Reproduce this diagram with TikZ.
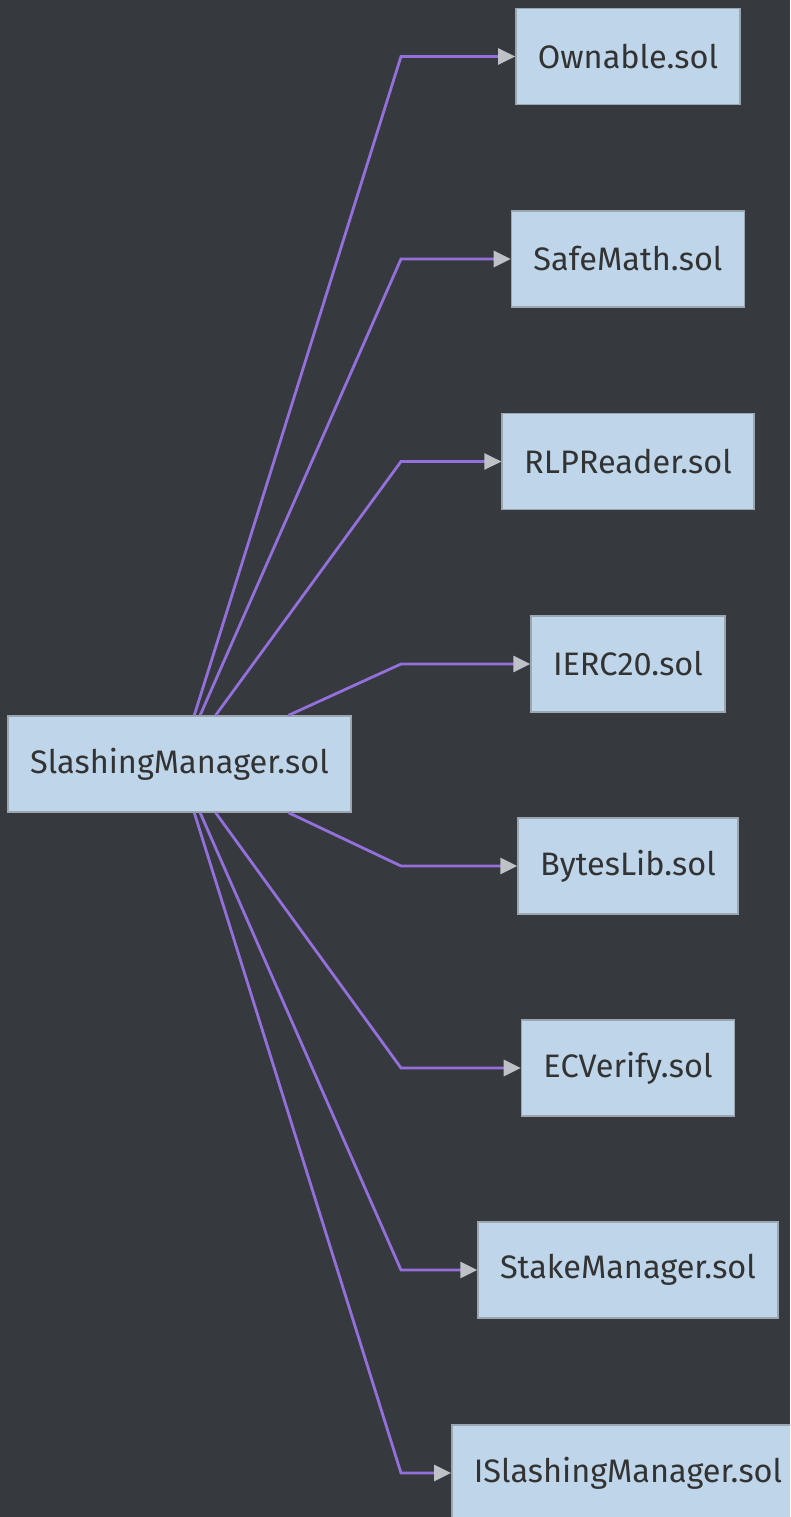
\documentclass[tikz,border=0pt]{standalone}
\usepackage{fontspec}
\setmainfont{Fira Sans}
\usepackage{tikz}
\usetikzlibrary{calc, positioning, arrows.meta}
\definecolor{bgdark}{RGB}{54,57,62}
\definecolor{boxblue}{RGB}{190,213,234}
\definecolor{boxedge}{RGB}{156,166,176}
\definecolor{edgepurple}{RGB}{147,112,219}
\definecolor{tipgray}{RGB}{190,194,200}
\definecolor{txt}{RGB}{51,51,51}
\tikzstyle{file}=[draw=boxedge, fill=boxblue, line width=1.5pt, shape=rectangle, inner xsep=22pt, minimum height=96pt, text=txt, font=\fontsize{32.5}{38}\selectfont]
\tikzstyle{dep}=[draw=edgepurple, line width=2.8pt, -{Triangle[length=17pt, width=16pt, color=tipgray]}]
\tikzset{>=stealth}

\begin{document}
\begin{tikzpicture}[x=1pt, y=-1pt]
\fill[bgdark] (0,0) rectangle (790,1517);
\useasboundingbox (0,0) rectangle (790,1517);
\clip (0,0) rectangle (790,1517);
\node[file] (sm) at (179.5, 764) {SlashingManager.sol};
\node[file] (own) at (628, 56.5) {Ownable.sol};
\node[file] (safe) at (628, 259) {SafeMath.sol};
\node[file] (rlp) at (628, 461.5) {RLPReader.sol};
\node[file] (erc) at (628, 664) {IERC20.sol};
\node[file] (bytes) at (628, 866) {BytesLib.sol};
\node[file] (ecv) at (628, 1068) {ECVerify.sol};
\node[file] (stake) at (628, 1270) {StakeManager.sol};
\node[file] (isl) at (628, 1473) {ISlashingManager.sol};

% bends of the connectors
\coordinate (b1) at (401, 56.5);
\coordinate (b2) at (401, 259);
\coordinate (b3) at (401, 461.5);
\coordinate (b4) at (401, 664);
\coordinate (b5) at (401, 866);
\coordinate (b6) at (401, 1068);
\coordinate (b7) at (401, 1270);
\coordinate (b8) at (401, 1473);

\draw[dep] ($(sm.north west)!.543!(sm.north east)$) -- (b1) -- (own.west);
\draw[dep] ($(sm.north west)!.560!(sm.north east)$) -- (b2) -- (safe.west);
\draw[dep] ($(sm.north west)!.605!(sm.north east)$) -- (b3) -- (rlp.west);
\draw[dep] ($(sm.north west)!.817!(sm.north east)$) -- (b4) -- (erc.west);
\draw[dep] ($(sm.south west)!.817!(sm.south east)$) -- (b5) -- (bytes.west);
\draw[dep] ($(sm.south west)!.605!(sm.south east)$) -- (b6) -- (ecv.west);
\draw[dep] ($(sm.south west)!.560!(sm.south east)$) -- (b7) -- (stake.west);
\draw[dep] ($(sm.south west)!.543!(sm.south east)$) -- (b8) -- (isl.west);
\end{tikzpicture}
\end{document}
